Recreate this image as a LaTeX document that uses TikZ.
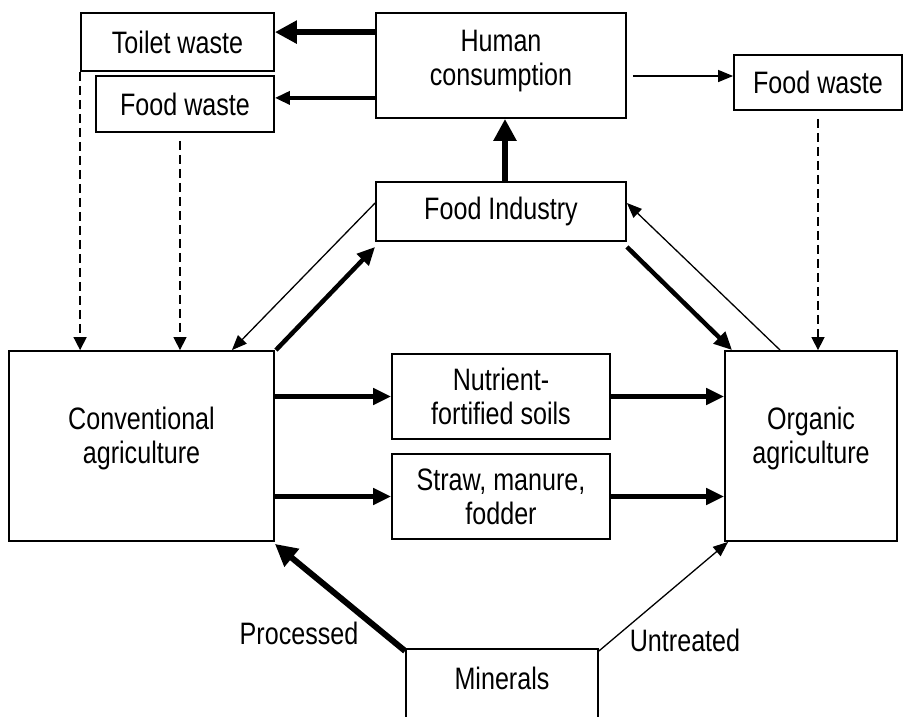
\documentclass[tikz,border=0pt]{standalone}
\usepackage{fontspec}
\setmainfont{Liberation Sans}[FakeStretch=0.81]
\usetikzlibrary{arrows.meta,calc}
\tikzset{
  box/.style={draw, line width=1.8pt, inner sep=0pt, align=center,
    font=\fontsize{31}{34}\selectfont},
  lbl/.style={inner sep=0pt, font=\fontsize{31}{34}\selectfont},
  thickarr/.style={line width=6pt, -{Triangle[length=22pt,width=22pt]}},
  medarr/.style={line width=4.5pt, -{Triangle[length=18pt,width=16pt]}},
  fwarr/.style={line width=3.5pt, -{Triangle[length=15pt,width=13pt]}},
  thinarr/.style={line width=1.3pt, -{Triangle[length=15pt,width=12pt]}},
  dasharr/.style={line width=1.5pt, dash pattern=on 9pt off 5pt, -{Triangle[length=13pt,width=13pt]}},
}
\begin{document}
\begin{tikzpicture}[x=1pt,y=-1pt]
\useasboundingbox (0,0) rectangle (903,716);
\clip (0,0) rectangle (903,716);
\fill[white] (0,0) rectangle (903,716);
% boxes
\node[box, minimum width=193pt, minimum height=58pt] (toilet) at (177.5,42) {Toilet waste};
\node[box, minimum width=178pt, minimum height=56pt] (fwl) at (185,104) {Food waste};
\node[box, minimum width=250pt, minimum height=105pt, text depth=16pt] (human) at (501,65.5) {Human\\consumption};
\node[box, minimum width=250pt, minimum height=59pt] (fi) at (501,211.5) {Food Industry};
\node[box, minimum width=168pt, minimum height=55pt] (fwr) at (818,82.5) {Food waste};
\node[box, minimum width=265pt, minimum height=190pt, text depth=22pt] (conv) at (141.5,446) {Conventional\\agriculture};
\node[box, minimum width=172pt, minimum height=190pt, text depth=22pt] (org) at (811,446) {Organic\\agriculture};
\node[box, minimum width=218pt, minimum height=85pt] (nut) at (501,396.5) {Nutrient-\\fortified soils};
\node[box, minimum width=218pt, minimum height=85pt] (straw) at (501,496.5) {Straw, manure,\\fodder};
\node[box, minimum width=192pt, minimum height=100pt, anchor=north] (min) at (502,648) {};
\node[lbl] (mintext) at (502,678) {Minerals};
\node[lbl] (proc) at (299,633) {Processed};
\node[lbl] (untr) at (685,640) {Untreated};
% connectors
\draw[thickarr] ([yshift=-20pt]human.north west) -- ([yshift=-20pt]human.north west -| toilet.east);
\draw[fwarr] ([yshift=21pt]human.south west) -- ([yshift=21pt]human.south west -| fwl.east);
\draw[thinarr] ([xshift=6pt,yshift=-10.5pt]human.east) -- ([yshift=-10.5pt]human.east -| fwr.west);
\draw[thickarr] ([xshift=4pt]fi.north) -- ([xshift=4pt]human.south);
\draw[thinarr] ([yshift=8.5pt]fi.west) -- ([xshift=-43pt]conv.north east);
\draw[medarr] ([xshift=1pt]conv.north east) -- ([yshift=-5pt]fi.south west);
\draw[medarr] ([yshift=-5pt]fi.south east) -- ([xshift=8pt]org.north west);
\draw[thinarr] ([xshift=56pt]org.north west) -- ([yshift=8.5pt]fi.east);
\draw[dasharr] (toilet.south west) -- (toilet.south west |- conv.north);
\draw[dasharr] ([xshift=-5pt,yshift=-8pt]fwl.south) -- ([xshift=-5pt]fwl.south |- conv.north);
\draw[dasharr] ([yshift=-8pt]fwr.south) -- (fwr.south |- org.north);
\draw[medarr] (conv.east |- nut.west) -- (nut.west);
\draw[medarr] (nut.east) -- (nut.east -| org.west);
\draw[medarr] (conv.east |- straw.west) -- (straw.west);
\draw[medarr] (straw.east) -- (straw.east -| org.west);
\draw[thickarr] ([yshift=-3pt]min.north west) -- ([yshift=-2pt]conv.south east);
\draw[thinarr] ([yshift=-3pt]min.north east) -- ([xshift=4pt]org.south west);
\end{tikzpicture}
\end{document}
